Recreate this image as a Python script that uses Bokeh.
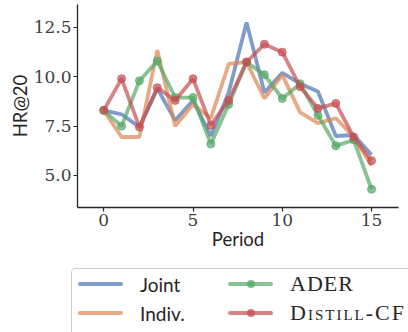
from bokeh.plotting import figure
from bokeh.layouts import column
from bokeh.models import Range1d, FixedTicker, CustomJSTickFormatter, ColumnDataSource, Div
from bokeh.embed import file_html
from bokeh.resources import INLINE

periods = list(range(16))
joint = [8.3, 8.1, 7.45, 9.4, 7.8, 8.8, 7.0, 9.2, 12.75, 9.2, 10.2, 9.65, 9.25, 7.0, 7.05, 6.05]
indiv = [8.3, 6.95, 6.95, 11.35, 7.5, 8.6, 7.9, 10.65, 10.75, 8.9, 10.1, 8.2, 7.65, 7.9, 6.95, 5.5]
ader = [8.3, 7.5, 9.8, 10.8, 8.95, 8.95, 6.6, 8.6, 10.75, 10.1, 8.9, 9.65, 8.05, 6.5, 6.8, 4.3]
distill = [8.3, 9.9, 7.45, 9.45, 8.8, 9.9, 7.55, 8.8, 10.75, 11.65, 11.25, 9.5, 8.4, 8.65, 6.95, 5.75]
y_ticks = [5.0, 7.5, 10.0, 12.5]
x_ticks = [0, 5, 10, 15]

series = [
    ("Joint", joint, "#4C72B0", False),
    ("Indiv.", indiv, "#DD8452", False),
    ("ADER", ader, "#55A868", True),
    ("Distill-CF", distill, "#C44E52", True),
]

TXT = "#262626"

p = figure(width=408, height=267, output_backend="svg", toolbar_location=None,
           x_range=Range1d(-1.47, 16.51), y_range=Range1d(3.376, 13.665),
           min_border_left=77, min_border_right=10, min_border_top=4, min_border_bottom=60)
p.outline_line_color = None
p.xgrid.visible = False
p.ygrid.visible = False
p.background_fill_color = "white"
p.border_fill_color = "white"

for name, vals, col, mk in series:
    src = ColumnDataSource(dict(x=periods, y=vals))
    p.line("x", "y", source=src, line_color=col, line_width=3.8, line_alpha=0.7)
    if mk:
        p.scatter("x", "y", source=src, size=8, fill_color=col, line_color=col,
                  fill_alpha=0.7, line_alpha=0.7)

for ax in (p.xaxis[0], p.yaxis[0]):
    ax.axis_line_color = TXT
    ax.axis_line_width = 1.3
    ax.major_tick_line_color = TXT
    ax.major_tick_line_width = 1.2
    ax.major_tick_out = 4
    ax.major_tick_in = 0
    ax.minor_tick_line_color = None
    ax.major_label_text_font = "DejaVu Serif"
    ax.major_label_text_font_size = "17px"
    ax.major_label_text_color = "#404040"
    ax.axis_label_text_font = "Lato"
    ax.axis_label_text_font_size = "18.5px"
    ax.axis_label_text_font_style = "normal"
    ax.axis_label_text_color = TXT

p.xaxis.ticker = FixedTicker(ticks=x_ticks)
p.yaxis.ticker = FixedTicker(ticks=y_ticks)
p.yaxis.formatter = CustomJSTickFormatter(code="return tick.toFixed(1);")
p.xaxis.axis_label = "Period"
p.yaxis.axis_label = "HR@20"
p.xaxis.major_label_standoff = 2
p.yaxis.major_label_standoff = 2
p.xaxis.axis_label_standoff = -1
p.yaxis.axis_label_standoff = 0

# legend as an HTML block (page y 267 .. 332)
row_y = [17, 46]
col_x = [78, 228]
SERIF_CSS = "'Liberation Serif','Times New Roman',serif"
parts = []
parts.append('<div style="position:absolute;left:71px;top:1px;width:400px;height:100px;'
             'border:1px solid #d0d0d0;border-radius:4px;background:white;"></div>')
for i, (name, vals, colr, mk) in enumerate(series):
    cx = col_x[i // 2]
    cy = row_y[i % 2]
    parts.append(f'<div style="position:absolute;left:{cx}px;top:{cy - 2}px;width:45px;height:4px;'
                 f'border-radius:2px;background:{colr};opacity:0.7;"></div>')
    if mk:
        parts.append(f'<div style="position:absolute;left:{cx + 18.5}px;top:{cy - 4}px;width:8px;height:8px;'
                     f'border-radius:50%;background:{colr};opacity:0.75;"></div>')
    tx = cx + 62
    if i < 2:
        style = "font-family:Lato;font-size:19px;"
    elif name == "ADER":
        style = f"font-family:{SERIF_CSS};font-size:22px;letter-spacing:1px;"
    else:
        style = f"font-family:{SERIF_CSS};font-size:22px;letter-spacing:2px;font-variant:small-caps;"
    parts.append(f'<div style="position:absolute;left:{tx}px;top:{cy}px;transform:translateY(-50%);'
                 f'line-height:1;white-space:nowrap;color:{TXT};{style}">{name}</div>')

html = ('<div style="position:relative;width:408px;height:65px;overflow:hidden;">'
        + "".join(parts) + '</div>')
leg = Div(text=html, width=408, height=65, styles={"margin": "0", "padding": "0"})

layout = column(p, leg, spacing=0)
open("out.html", "w").write(file_html(layout, INLINE))
